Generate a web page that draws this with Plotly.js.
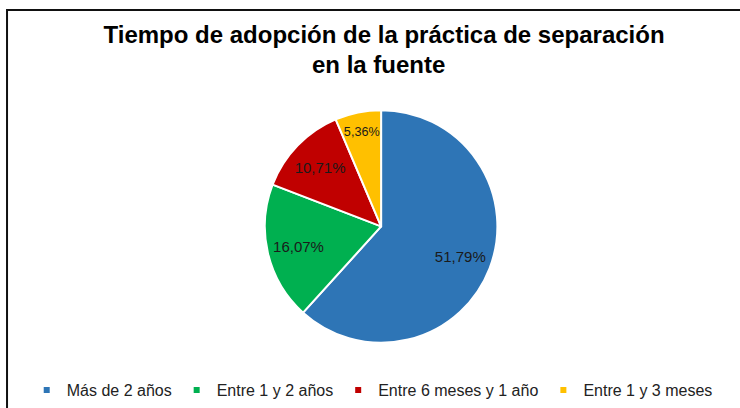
<!DOCTYPE html>
<html>
<head>
<meta charset="utf-8">
<script src="https://cdn.plot.ly/plotly-3.0.1.min.js"></script>
<style>html,body{margin:0;padding:0;background:#fff;}#chart{width:740px;height:408px;}</style>
</head>
<body>
<div id="chart"></div>
<script>
const categories = ["Más de 2 años", "Entre 1 y 2 años", "Entre 6 meses y 1 año", "Entre 1 y 3 meses"];
const values = [51.79, 16.07, 10.71, 5.36];
const colors = ["#2E75B6", "#00B050", "#C00000", "#FFC000"];
const titleLine1 = "Tiempo de adopción de la práctica de separación";
const titleLine2 = "en la fuente";

const pieDomain = {x: [0.355, 0.675], y: [0.16, 0.73]};
const FONT = "Liberation Sans, Arial, sans-serif";

const data = [
  {
    type: "pie",
    labels: categories,
    values: values,
    sort: false,
    direction: "clockwise",
    rotation: 0,
    marker: {colors: colors, line: {color: "#ffffff", width: 2}},
    textinfo: "none",
    showlegend: false,
    domain: pieDomain
  },
  {
    type: "pie",
    labels: categories,
    values: values,
    sort: false,
    direction: "clockwise",
    rotation: 0,
    hole: 0.46,
    marker: {colors: ["rgba(0,0,0,0)","rgba(0,0,0,0)","rgba(0,0,0,0)","rgba(0,0,0,0)"], line: {width: 0}},
    texttemplate: "%{value:.2f}%",
    textposition: "inside",
    insidetextorientation: "horizontal",
    textfont: {family: FONT, size: 15, color: "#1a1a1a"},
    showlegend: false,
    domain: pieDomain
  }
];

categories.forEach(function (c, i) {
  data.push({
    type: "scatter", mode: "markers", x: [null], y: [null],
    name: c, showlegend: true,
    marker: {symbol: "square", size: 6, color: colors[i]},
    hoverinfo: "skip"
  });
});

const layout = {
  width: 740, height: 408,
  margin: {l: 0, r: 0, t: 0, b: 0},
  paper_bgcolor: "#ffffff",
  plot_bgcolor: "rgba(0,0,0,0)",
  separators: ",.",
  xaxis: {visible: false, showgrid: false, zeroline: false},
  yaxis: {visible: false, showgrid: false, zeroline: false},
  title: {
    text: titleLine1,
    font: {family: FONT, size: 24, color: "#000000", weight: "bold"},
    x: 0.519, xanchor: "center", yref: "container", y: 1 - 35 / 408, yanchor: "middle"
  },
  annotations: [{
    text: titleLine2, showarrow: false, xref: "paper", yref: "paper",
    x: 0.512, xanchor: "center", y: 1 - 64 / 408, yanchor: "middle",
    font: {family: FONT, size: 24, color: "#000000", weight: "bold"}
  }],
  showlegend: true,
  legend: {
    orientation: "h", x: 0.503, xanchor: "center", y: 1 - 390 / 408, yanchor: "middle",
    font: {family: FONT, size: 16, color: "#222222"},
    itemwidth: 30, traceorder: "normal", bgcolor: "rgba(0,0,0,0)"
  },
  shapes: [{
    type: "rect", xref: "paper", yref: "paper",
    x0: 0.0095, x1: 1.02, y0: -0.02, y1: 0.9755,
    line: {color: "#111111", width: 2}
  }]
};

Plotly.newPlot("chart", data, layout, {displayModeBar: false, staticPlot: true});
</script>
</body>
</html>
